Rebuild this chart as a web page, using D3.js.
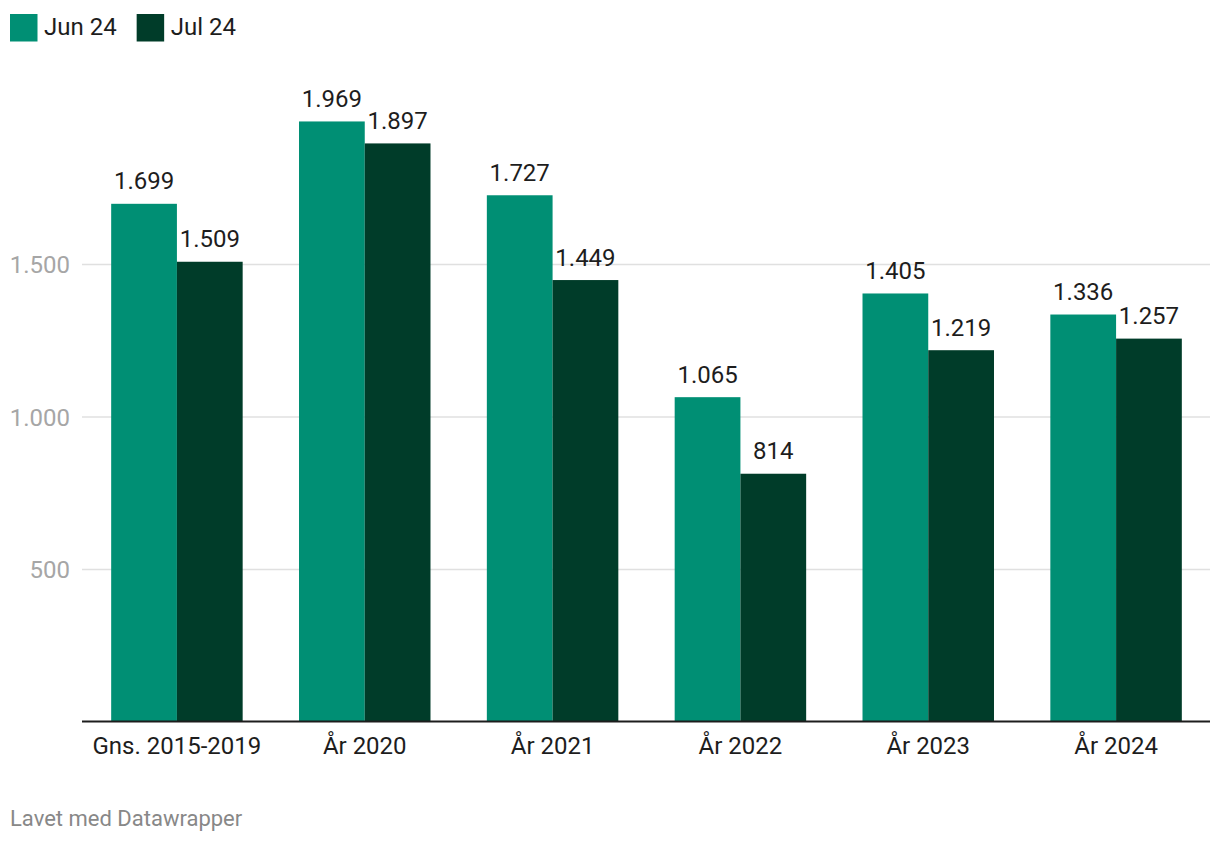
<!DOCTYPE html>
<html>
<head>
<meta charset="utf-8">
<script src="https://cdn.jsdelivr.net/npm/d3@7"></script>
<style>
  body { margin: 0; background: #fff; }
  svg text { font-family: Roboto, "Noto Sans", sans-serif; }
</style>
</head>
<body>
<div id="chart"></div>
<script>
// chart data
const categories = ["Gns. 2015-2019", "År 2020", "År 2021", "År 2022", "År 2023", "År 2024"];
const seriesNames = ["Jun 24", "Jul 24"];
const jun24 = [1699, 1969, 1727, 1065, 1405, 1336];
const jul24 = [1509, 1897, 1449, 814, 1219, 1257];
const yTicks = [500, 1000, 1500];

const colors = ["#008f74", "#003c29"];
const fmt = d3.formatLocale({decimal: ",", thousands: ".", grouping: [3], currency: ["", " kr"]}).format(",");

const W = 1220, H = 844;
const fontSize = "24px";

const svg = d3.select("#chart").append("svg")
    .attr("width", W)
    .attr("height", H);

const x = d3.scaleBand()
    .domain(categories)
    .range([83, 1210])
    .paddingInner(0.3)
    .paddingOuter(0.15);

const xs = d3.scaleBand()
    .domain(seriesNames)
    .range([0, x.bandwidth()]);

const y = d3.scaleLinear()
    .domain([0, 1500])
    .range([722, 264.5]);

// gridlines
svg.append("g")
    .selectAll("line")
    .data(yTicks)
    .enter()
    .append("line")
    .attr("x1", 82)
    .attr("x2", 1210)
    .attr("y1", d => y(d))
    .attr("y2", d => y(d))
    .attr("stroke", "#e0e0e0")
    .attr("stroke-width", 1.5);

// y tick labels
svg.append("g")
    .selectAll("text")
    .data(yTicks)
    .enter()
    .append("text")
    .attr("x", 70)
    .attr("y", d => y(d))
    .attr("dy", "0.36em")
    .attr("text-anchor", "end")
    .style("font-size", fontSize)
    .style("fill", "#a6a6a6")
    .text(d => fmt(d));

const rows = categories.map((c, i) => ({cat: c, vals: [
    {key: seriesNames[0], value: jun24[i]},
    {key: seriesNames[1], value: jul24[i]}
]}));

const groups = svg.append("g")
    .selectAll("g")
    .data(rows)
    .enter()
    .append("g")
    .attr("transform", d => `translate(${x(d.cat)},0)`);

groups.selectAll("rect")
    .data(d => d.vals)
    .enter()
    .append("rect")
    .attr("x", d => xs(d.key))
    .attr("y", d => y(d.value))
    .attr("width", xs.bandwidth())
    .attr("height", d => y(0) - y(d.value))
    .style("fill", (d, i) => colors[i]);

groups.selectAll("text")
    .data(d => d.vals)
    .enter()
    .append("text")
    .attr("x", d => xs(d.key) + xs.bandwidth() / 2)
    .attr("y", d => y(d.value) - 14.5)
    .attr("text-anchor", "middle")
    .style("font-size", fontSize)
    .style("fill", "#1d1d1d")
    .text(d => fmt(d.value));

// baseline
svg.append("line")
    .attr("x1", 82)
    .attr("x2", 1210)
    .attr("y1", y(0) - 0.5)
    .attr("y2", y(0) - 0.5)
    .attr("stroke", "#1d1d1d")
    .attr("stroke-width", 2);

// x labels
svg.append("g")
    .selectAll("text")
    .data(categories)
    .enter()
    .append("text")
    .attr("x", d => x(d) + x.bandwidth() / 2)
    .attr("y", 754)
    .attr("text-anchor", "middle")
    .style("font-size", fontSize)
    .style("fill", "#1d1d1d")
    .text(d => d);

// legend
const legend = svg.append("g");
let lx = 10;
seriesNames.forEach((s, i) => {
    legend.append("rect")
        .attr("x", lx)
        .attr("y", 14)
        .attr("width", 27.5)
        .attr("height", 27.5)
        .style("fill", colors[i]);
    const t = legend.append("text")
        .attr("x", lx + 34)
        .attr("y", 34.5)
        .style("font-size", fontSize)
        .style("fill", "#1d1d1d")
        .text(s);
    lx += 34 + t.node().getComputedTextLength() + 20;
});

// footer
svg.append("text")
    .attr("x", 10)
    .attr("y", 826)
    .style("font-size", "22px")
    .style("fill", "#888")
    .text("Lavet med Datawrapper");
</script>
</body>
</html>
